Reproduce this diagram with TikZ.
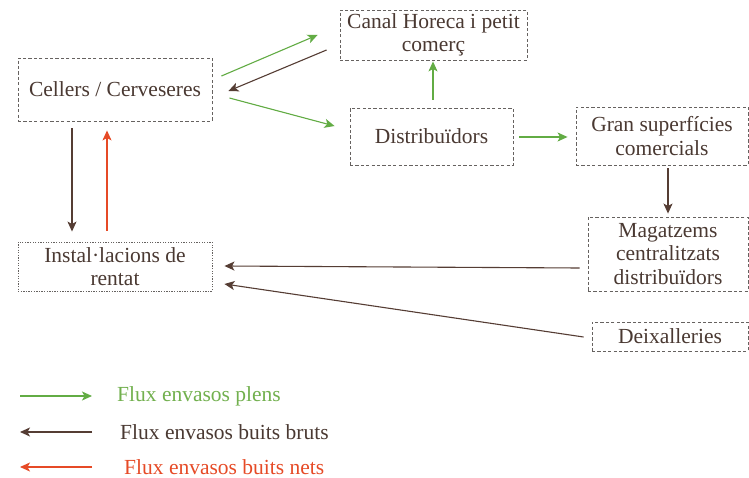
\documentclass[tikz,border=0pt]{standalone}
\usepackage{fontspec}
\setmainfont{Liberation Serif}
\usetikzlibrary{arrows.meta,calc}
\definecolor{txt}{HTML}{4A3932}
\definecolor{bord}{HTML}{666260}
\definecolor{grn}{HTML}{62AC44}
\definecolor{grntxt}{HTML}{72B04E}
\definecolor{brn}{HTML}{553D34}
\definecolor{rd}{HTML}{E64A26}
\tikzset{
  box/.style={draw=bord, line width=0.9pt, dash pattern=on 3.2pt off 2.2pt, text=txt,
    font=\fontsize{21.5}{23.5}\selectfont, align=center, inner sep=0pt},
  dotbox/.style={box, dash pattern=on 1.3pt off 1.3pt},
  flow/.style={line width=1.1pt, -{Stealth[length=10pt,width=9pt,inset=2.5pt]}},
  gflow/.style={flow, draw=grn},
  bflow/.style={flow, draw=brn},
  rflow/.style={flow, draw=rd},
  legtext/.style={anchor=west, font=\fontsize{21.5}{23.5}\selectfont, inner sep=0pt}
}
\begin{document}
\begin{tikzpicture}[x=1pt,y=-1pt]
\useasboundingbox[fill=white] (0,0) rectangle (749,478);
\node[box, minimum width=194pt, minimum height=63pt] (cellers) at (115,89.5) {Cellers / Cerveseres};
\node[box, minimum width=187pt, minimum height=50pt] (canal) at (433.5,35) {Canal Horeca i petit\\comerç};
\node[box, minimum width=163pt, minimum height=57pt] (distrib) at (431.5,136.5) {Distribuïdors};
\node[box, minimum width=172pt, minimum height=58pt] (gran) at (662,136) {Gran superfícies\\comercials};
\node[box, minimum width=160pt, minimum height=74pt] (mag) at (668,254) {Magatzems\\centralitzats\\distribuïdors};
\node[dotbox, minimum width=194pt, minimum height=49pt] (inst) at (115,266.5) {Instal·lacions de\\rentat};
\node[box, minimum width=156pt, minimum height=29pt] (deix) at (670,336.5) {Deixalleries};

\draw[gflow] ([shift={(9,-13.5)}]cellers.east) -- ([shift={(-22,0)}]canal.west);
\draw[bflow] ([shift={(-13,15)}]canal.west) -- ([shift={(16,1.5)}]cellers.east);
\draw[gflow] ([shift={(17,8.5)}]cellers.east) -- ([shift={(-15,-10.5)}]distrib.west);
\draw[gflow] ([shift={(1.5,-8)}]distrib.north) -- ([shift={(-0.5,1)}]canal.south);
\draw[gflow] ([shift={(6,0.5)}]distrib.east) -- ([shift={(-8,1)}]gran.west);
\draw[bflow] ([shift={(6,3)}]gran.south) -- ([shift={(0,-3)}]mag.north);
\draw[bflow] ([shift={(-43,7)}]cellers.south) -- ([shift={(-43,-10)}]inst.north);
\draw[rflow] ([shift={(-8,-11)}]inst.north) -- ([shift={(-8,9)}]cellers.south);
\draw[bflow] ([shift={(-8,14)}]mag.west) -- ([shift={(12,-0.5)}]inst.east);
\draw[bflow] ([shift={(-8,0.5)}]deix.west) -- ([shift={(12,17.5)}]inst.east);

\node[legtext, text=grntxt] (l1) at (117,396) {Flux envasos plens};
\node[legtext, text=txt] (l2) at (120,432) {Flux envasos buits bruts};
\node[legtext, text=rd] (l3) at (124,467) {Flux envasos buits nets};
\draw[gflow] ([xshift=-97pt]l1.west) -- ([xshift=-25pt]l1.west);
\draw[bflow] ([xshift=-28pt]l2.west) -- ([xshift=-100pt]l2.west);
\draw[rflow] ([xshift=-32pt]l3.west) -- ([xshift=-104pt]l3.west);
\end{tikzpicture}
\end{document}
